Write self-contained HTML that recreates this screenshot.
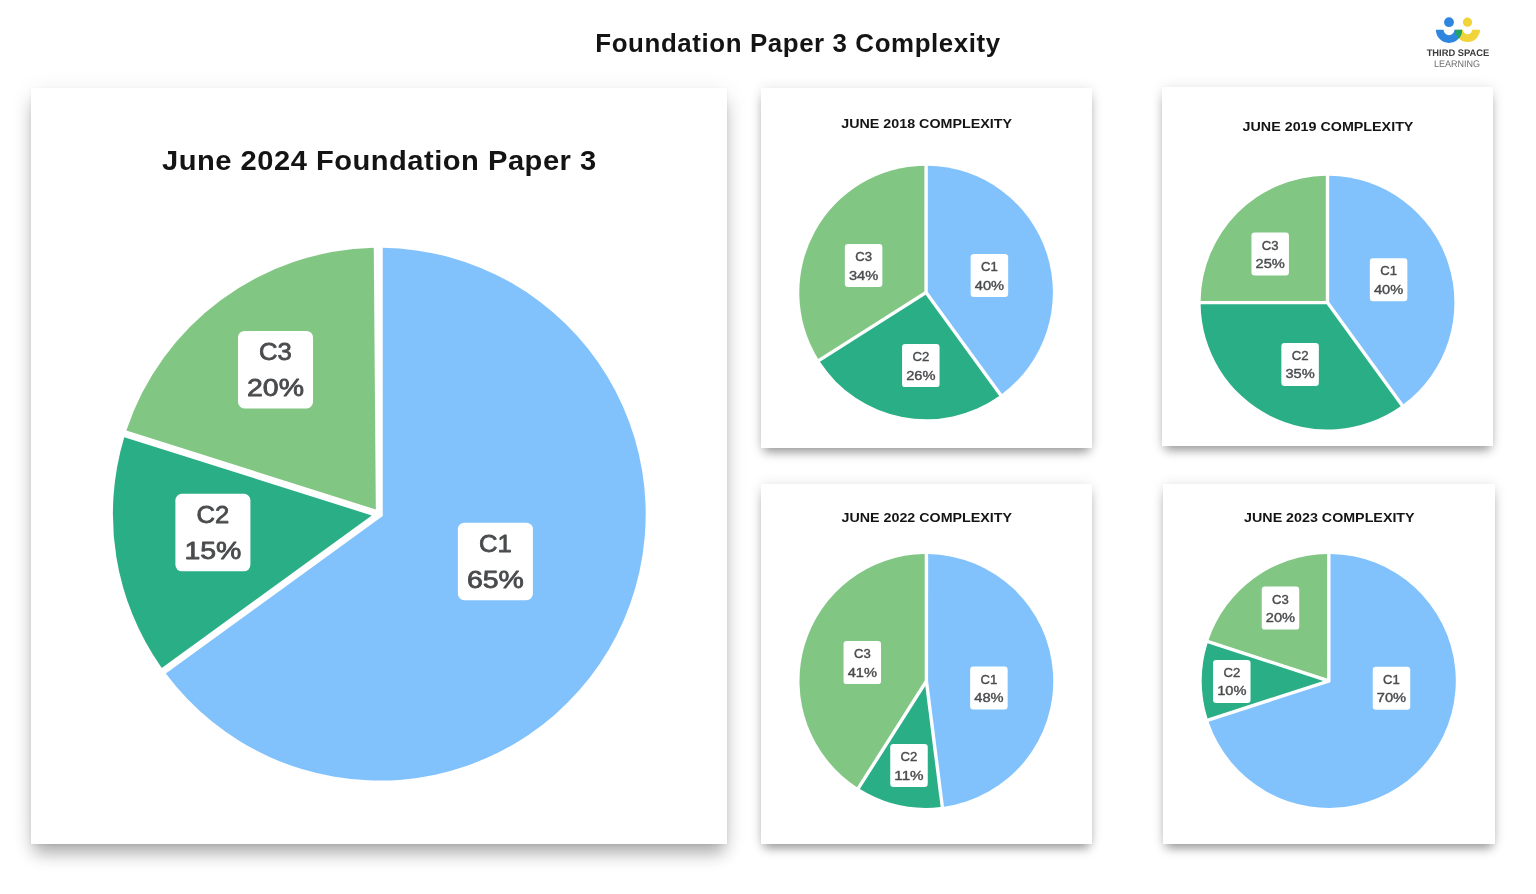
<!DOCTYPE html>
<html lang="en"><head><meta charset="utf-8">
<title>Foundation Paper 3 Complexity</title>
<style>
html,body{margin:0;padding:0;background:#fff;}
body{width:1536px;height:894px;position:relative;overflow:hidden;font-family:"Liberation Sans",sans-serif;}
.card{position:absolute;background:#fff;}
.card.big{box-shadow:0 11.5px 16px -3px rgba(0,0,0,.3),0 3px 24px rgba(0,0,0,.07),0 1px 3px rgba(0,0,0,.06);}
.card.sm{box-shadow:0 6.5px 10px -3px rgba(0,0,0,.38),0 0 12px rgba(0,0,0,.1);}
svg{position:absolute;left:0;top:0;display:block;overflow:visible;}
header{position:absolute;left:0;top:0;width:1536px;height:80px;}
text{font-family:"Liberation Sans",sans-serif;}
.ttl{font-weight:700;fill:#141414;}
.lb{font-weight:400;fill:#484a4c;stroke:#484a4c;paint-order:stroke;stroke-linejoin:round;}
</style></head><body>
<header>
<svg width="1536" height="80" viewBox="0 0 1536 80" role="img" aria-labelledby="page-title">
<text class="ttl" id="page-title" transform="translate(797.75 52.3) scale(1.04 1)" x="0" y="0" font-size="24.9" text-anchor="middle" textLength="389.42" lengthAdjust="spacing">Foundation Paper 3 Complexity</text>
<g class="logo">
<defs><clipPath id="ycl"><path d="M1455.2 29.8A12.4 12.2 0 0 0 1480 29.8H1472.1A4.5 4.5 0 0 1 1463.1 29.8Z"/></clipPath></defs>
<circle cx="1449" cy="22.2" r="4.9" fill="#2e86de"/>
<circle cx="1467.5" cy="22.2" r="4.6" fill="#f0d43a"/>
<path d="M1455.2 29.8A12.4 12.2 0 0 0 1480 29.8H1472.1A4.5 4.5 0 0 1 1463.1 29.8Z" fill="#f0d43a"/>
<path d="M1435.9 29.8A13.1 13.1 0 0 0 1462.1 29.8H1454.4A5.4 5.4 0 0 1 1443.6 29.8Z" fill="#2e86de"/>
<path clip-path="url(#ycl)" d="M1435.9 29.8A13.1 13.1 0 0 0 1462.1 29.8H1454.4A5.4 5.4 0 0 1 1443.6 29.8Z" fill="#1fa463"/>
<text text-rendering="geometricPrecision" x="1458" y="56" font-size="9.6" font-weight="700" fill="#3c3c3c" text-anchor="middle" textLength="62.7" lengthAdjust="spacingAndGlyphs">THIRD SPACE</text>
<text text-rendering="geometricPrecision" x="1457" y="67.2" font-size="9.6" font-weight="400" fill="#6e6e6e" text-anchor="middle" textLength="46.2" lengthAdjust="spacingAndGlyphs">LEARNING</text>
</g>
</svg>
</header>
<main>
<section class="card big" style="left:31px;top:88px;width:696px;height:756px">
<svg width="696" height="756" viewBox="31 88 696 756" role="img" aria-labelledby="t0">
<text class="ttl" id="t0" transform="translate(379.1 170.4) scale(1.04 1)" x="0" y="0" font-size="28" text-anchor="middle" textLength="417.5" lengthAdjust="spacing">June 2024 Foundation Paper 3</text>
<g class="pie">
<path d="M382.75 515.96L382.75 247.82A266.4 266.4 0 1 1 165.82 673.56Z" fill="#81c2fd"/>
<path d="M371.74 515.43L161.77 667.98A266.4 266.4 0 0 1 124.28 437.17Z" fill="#2aae85"/>
<path d="M375.81 509.48L126.36 430.59A266.4 266.4 0 0 1 373.76 247.86Z" fill="#82c684"/>
</g>
<g class="lbl">
<rect x="457.9" y="522.65" width="75" height="77.5" rx="6.5" fill="#fff"/>
<text class="lb" x="495.4" y="552.05" font-size="24.2" stroke-width="0.78" text-anchor="middle" textLength="32.8" lengthAdjust="spacingAndGlyphs">C1</text>
<text class="lb" x="495.4" y="587.95" font-size="24.2" stroke-width="0.78" text-anchor="middle" textLength="57" lengthAdjust="spacingAndGlyphs">65%</text>
</g>
<g class="lbl">
<rect x="175.4" y="493.85" width="75" height="77.5" rx="6.5" fill="#fff"/>
<text class="lb" x="212.9" y="523.25" font-size="24.2" stroke-width="0.78" text-anchor="middle" textLength="32.8" lengthAdjust="spacingAndGlyphs">C2</text>
<text class="lb" x="212.9" y="559.15" font-size="24.2" stroke-width="0.78" text-anchor="middle" textLength="57" lengthAdjust="spacingAndGlyphs">15%</text>
</g>
<g class="lbl">
<rect x="238" y="330.95" width="75" height="77.5" rx="6.5" fill="#fff"/>
<text class="lb" x="275.5" y="360.35" font-size="24.2" stroke-width="0.78" text-anchor="middle" textLength="32.8" lengthAdjust="spacingAndGlyphs">C3</text>
<text class="lb" x="275.5" y="396.25" font-size="24.2" stroke-width="0.78" text-anchor="middle" textLength="57" lengthAdjust="spacingAndGlyphs">20%</text>
</g>
</svg>
</section>
<section class="card sm" style="left:761px;top:88px;width:331px;height:360px">
<svg width="331" height="360" viewBox="761 88 331 360" role="img" aria-labelledby="t1">
<text class="ttl" id="t1" x="926.6" y="127.9" font-size="13" text-anchor="middle" textLength="170.8" lengthAdjust="spacingAndGlyphs">JUNE 2018 COMPLEXITY</text>
<g class="pie">
<path d="M927.8 291.95L927.8 165.71A126.8 126.8 0 0 1 1002 394.07Z" fill="#81c2fd"/>
<path d="M925.66 294.79L999.25 396.07A126.8 126.8 0 0 1 819.96 361.87Z" fill="#2aae85"/>
<path d="M924.4 291.57L818.14 359A126.8 126.8 0 0 1 924.4 165.71Z" fill="#82c684"/>
</g>
<g class="lbl">
<rect x="970.65" y="254" width="37.5" height="43" rx="3.2" fill="#fff"/>
<text class="lb" x="989.4" y="271.1" font-size="12.1" stroke-width="0.37" text-anchor="middle" textLength="16.8" lengthAdjust="spacingAndGlyphs">C1</text>
<text class="lb" x="989.4" y="289.55" font-size="12.1" stroke-width="0.37" text-anchor="middle" textLength="29.3" lengthAdjust="spacingAndGlyphs">40%</text>
</g>
<g class="lbl">
<rect x="902.05" y="344.1" width="37.5" height="43" rx="3.2" fill="#fff"/>
<text class="lb" x="920.8" y="361.2" font-size="12.1" stroke-width="0.37" text-anchor="middle" textLength="16.8" lengthAdjust="spacingAndGlyphs">C2</text>
<text class="lb" x="920.8" y="379.65" font-size="12.1" stroke-width="0.37" text-anchor="middle" textLength="29.3" lengthAdjust="spacingAndGlyphs">26%</text>
</g>
<g class="lbl">
<rect x="844.85" y="244" width="37.5" height="43" rx="3.2" fill="#fff"/>
<text class="lb" x="863.6" y="261.1" font-size="12.1" stroke-width="0.37" text-anchor="middle" textLength="16.8" lengthAdjust="spacingAndGlyphs">C3</text>
<text class="lb" x="863.6" y="279.55" font-size="12.1" stroke-width="0.37" text-anchor="middle" textLength="29.3" lengthAdjust="spacingAndGlyphs">34%</text>
</g>
</svg>
</section>
<section class="card sm" style="left:1162px;top:87px;width:331px;height:359px">
<svg width="331" height="359" viewBox="1162 87 331 359" role="img" aria-labelledby="t2">
<text class="ttl" id="t2" x="1328" y="131.1" font-size="13" text-anchor="middle" textLength="170.8" lengthAdjust="spacingAndGlyphs">JUNE 2019 COMPLEXITY</text>
<g class="pie">
<path d="M1329.2 302.05L1329.2 175.71A126.9 126.9 0 0 1 1403.46 404.26Z" fill="#81c2fd"/>
<path d="M1326.63 304.3L1400.71 406.25A126.9 126.9 0 0 1 1200.61 304.3Z" fill="#2aae85"/>
<path d="M1325.8 300.9L1200.61 300.9A126.9 126.9 0 0 1 1325.8 175.71Z" fill="#82c684"/>
</g>
<g class="lbl">
<rect x="1369.85" y="258.3" width="37.5" height="43" rx="3.2" fill="#fff"/>
<text class="lb" x="1388.6" y="275.4" font-size="12.1" stroke-width="0.37" text-anchor="middle" textLength="16.8" lengthAdjust="spacingAndGlyphs">C1</text>
<text class="lb" x="1388.6" y="293.85" font-size="12.1" stroke-width="0.37" text-anchor="middle" textLength="29.3" lengthAdjust="spacingAndGlyphs">40%</text>
</g>
<g class="lbl">
<rect x="1281.35" y="342.9" width="37.5" height="43" rx="3.2" fill="#fff"/>
<text class="lb" x="1300.1" y="360" font-size="12.1" stroke-width="0.37" text-anchor="middle" textLength="16.8" lengthAdjust="spacingAndGlyphs">C2</text>
<text class="lb" x="1300.1" y="378.45" font-size="12.1" stroke-width="0.37" text-anchor="middle" textLength="29.3" lengthAdjust="spacingAndGlyphs">35%</text>
</g>
<g class="lbl">
<rect x="1251.45" y="232.5" width="37.5" height="43" rx="3.2" fill="#fff"/>
<text class="lb" x="1270.2" y="249.6" font-size="12.1" stroke-width="0.37" text-anchor="middle" textLength="16.8" lengthAdjust="spacingAndGlyphs">C3</text>
<text class="lb" x="1270.2" y="268.05" font-size="12.1" stroke-width="0.37" text-anchor="middle" textLength="29.3" lengthAdjust="spacingAndGlyphs">25%</text>
</g>
</svg>
</section>
<section class="card sm" style="left:761px;top:484px;width:331px;height:360px">
<svg width="331" height="360" viewBox="761 484 331 360" role="img" aria-labelledby="t3">
<text class="ttl" id="t3" x="926.75" y="522.2" font-size="13" text-anchor="middle" textLength="170.5" lengthAdjust="spacingAndGlyphs">JUNE 2022 COMPLEXITY</text>
<g class="pie">
<path d="M928.1 680.89L928.1 554.11A126.9 126.9 0 0 1 943.99 806.67Z" fill="#81c2fd"/>
<path d="M925.31 685.9L940.62 807.1A126.9 126.9 0 0 1 859.85 789.05Z" fill="#2aae85"/>
<path d="M924.7 680.51L856.97 787.22A126.9 126.9 0 0 1 924.7 554.11Z" fill="#82c684"/>
</g>
<g class="lbl">
<rect x="970.15" y="666.5" width="37.5" height="43" rx="3.2" fill="#fff"/>
<text class="lb" x="988.9" y="683.6" font-size="12.1" stroke-width="0.37" text-anchor="middle" textLength="16.8" lengthAdjust="spacingAndGlyphs">C1</text>
<text class="lb" x="988.9" y="702.05" font-size="12.1" stroke-width="0.37" text-anchor="middle" textLength="29.3" lengthAdjust="spacingAndGlyphs">48%</text>
</g>
<g class="lbl">
<rect x="890.25" y="744" width="37.5" height="43" rx="3.2" fill="#fff"/>
<text class="lb" x="909" y="761.1" font-size="12.1" stroke-width="0.37" text-anchor="middle" textLength="16.8" lengthAdjust="spacingAndGlyphs">C2</text>
<text class="lb" x="909" y="779.55" font-size="12.1" stroke-width="0.37" text-anchor="middle" textLength="29.3" lengthAdjust="spacingAndGlyphs">11%</text>
</g>
<g class="lbl">
<rect x="843.55" y="641.1" width="37.5" height="43" rx="3.2" fill="#fff"/>
<text class="lb" x="862.3" y="658.2" font-size="12.1" stroke-width="0.37" text-anchor="middle" textLength="16.8" lengthAdjust="spacingAndGlyphs">C3</text>
<text class="lb" x="862.3" y="676.65" font-size="12.1" stroke-width="0.37" text-anchor="middle" textLength="29.3" lengthAdjust="spacingAndGlyphs">41%</text>
</g>
</svg>
</section>
<section class="card sm" style="left:1163px;top:484px;width:332px;height:360px">
<svg width="332" height="360" viewBox="1163 484 332 360" role="img" aria-labelledby="t4">
<text class="ttl" id="t4" x="1329.35" y="522.2" font-size="13" text-anchor="middle" textLength="170.5" lengthAdjust="spacingAndGlyphs">JUNE 2023 COMPLEXITY</text>
<g class="pie">
<path d="M1330.5 682.14L1330.5 553.91A127 127 0 1 1 1208.55 721.76Z" fill="#81c2fd"/>
<path d="M1323.3 680.9L1207.5 718.52A127 127 0 0 1 1207.5 643.28Z" fill="#2aae85"/>
<path d="M1327.1 678.56L1208.55 640.04A127 127 0 0 1 1327.1 553.91Z" fill="#82c684"/>
</g>
<g class="lbl">
<rect x="1372.75" y="666.8" width="37.5" height="43" rx="3.2" fill="#fff"/>
<text class="lb" x="1391.5" y="683.9" font-size="12.1" stroke-width="0.37" text-anchor="middle" textLength="16.8" lengthAdjust="spacingAndGlyphs">C1</text>
<text class="lb" x="1391.5" y="702.35" font-size="12.1" stroke-width="0.37" text-anchor="middle" textLength="29.3" lengthAdjust="spacingAndGlyphs">70%</text>
</g>
<g class="lbl">
<rect x="1213.05" y="659.9" width="37.5" height="43" rx="3.2" fill="#fff"/>
<text class="lb" x="1231.8" y="677" font-size="12.1" stroke-width="0.37" text-anchor="middle" textLength="16.8" lengthAdjust="spacingAndGlyphs">C2</text>
<text class="lb" x="1231.8" y="695.45" font-size="12.1" stroke-width="0.37" text-anchor="middle" textLength="29.3" lengthAdjust="spacingAndGlyphs">10%</text>
</g>
<g class="lbl">
<rect x="1261.75" y="586.6" width="37.5" height="43" rx="3.2" fill="#fff"/>
<text class="lb" x="1280.5" y="603.7" font-size="12.1" stroke-width="0.37" text-anchor="middle" textLength="16.8" lengthAdjust="spacingAndGlyphs">C3</text>
<text class="lb" x="1280.5" y="622.15" font-size="12.1" stroke-width="0.37" text-anchor="middle" textLength="29.3" lengthAdjust="spacingAndGlyphs">20%</text>
</g>
</svg>
</section>
</main>
</body></html>
